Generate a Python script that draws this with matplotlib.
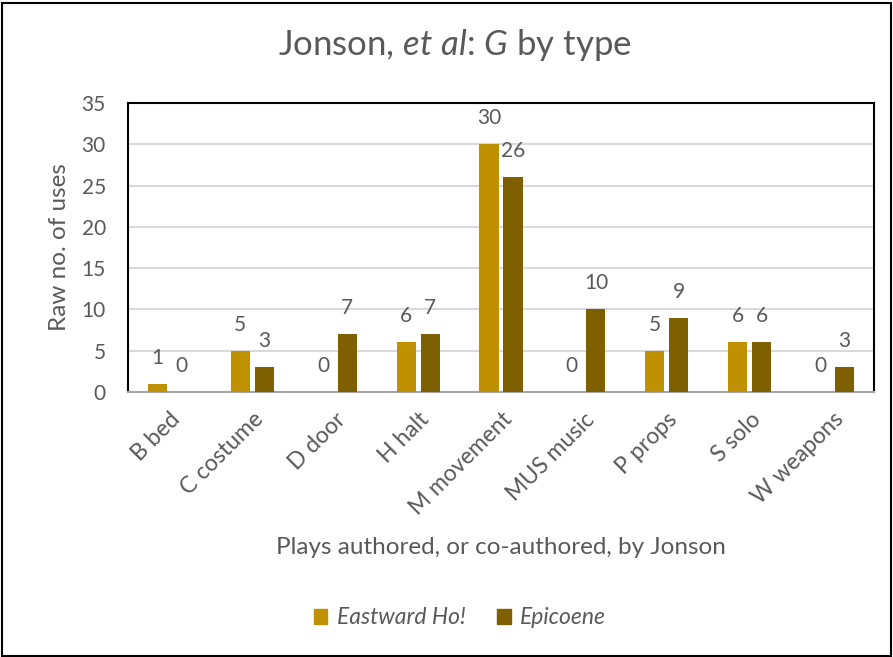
import matplotlib
matplotlib.use("Agg")
import matplotlib.pyplot as plt
from matplotlib.patches import Rectangle, Patch
import numpy as np

categories = ["B bed", "C costume", "D door", "H halt", "M movement",
              "MUS music", "P props", "S solo", "W weapons"]
eastward_ho = [1, 5, 0, 6, 30, 0, 5, 6, 0]
epicoene = [0, 3, 7, 7, 26, 10, 9, 6, 3]
series_names = ["Eastward Ho!", "Epicoene"]
y_ticks = [0, 5, 10, 15, 20, 25, 30, 35]

plt.rcParams["font.family"] = ["Lato", "DejaVu Sans"]
plt.rcParams["mathtext.fontset"] = "custom"
plt.rcParams["mathtext.rm"] = "Lato"
plt.rcParams["mathtext.it"] = "Lato:italic"

TEXT = "#595959"
GOLD = "#BF9000"
BROWN = "#7F6000"

fig = plt.figure(figsize=(8.93, 6.57), dpi=100)
W, H = 893, 657
ax = fig.add_axes([128 / W, 1 - 392 / H, (874 - 128) / W, (392 - 103) / H])

x = np.arange(len(categories))
bw = 0.23
off = 0.145
b1 = ax.bar(x - off, eastward_ho, bw, color=GOLD, zorder=3)
b2 = ax.bar(x + off, epicoene, bw, color=BROWN, zorder=3)

for bars, vals in ((b1, eastward_ho), (b2, epicoene)):
    for rect, v in zip(bars, vals):
        ax.annotate(str(v), (rect.get_x() + rect.get_width() / 2, v),
                    xytext=(0, 11.5), textcoords="offset points",
                    ha="center", va="bottom", fontsize=15, color=TEXT)

ax.set_xlim(-0.5, len(categories) - 0.5)
ax.set_ylim(0, 35)
ax.set_yticks(y_ticks)
ax.yaxis.grid(True, color="#D9D9D9", linewidth=1.5, zorder=0)
ax.set_axisbelow(True)
ax.set_xticks(x)
ax.set_xticklabels(categories, rotation=45, ha="right", rotation_mode="anchor",
                   fontsize=16.5, color=TEXT)
ax.tick_params(axis="y", labelsize=15, labelcolor=TEXT, length=0, pad=16)
ax.tick_params(axis="x", length=0, pad=12)

for s in ("top", "left", "right"):
    ax.spines[s].set_color("black")
    ax.spines[s].set_linewidth(1.5)
ax.spines["bottom"].set_color("#A6A6A6")
ax.spines["bottom"].set_linewidth(1.5)

ax.set_ylabel("Raw no. of uses", fontsize=17.5, color=TEXT, labelpad=8)
fig.text(501 / W, 1 - 548 / H, "Plays authored, or co-authored, by Jonson",
         fontsize=17.5, color=TEXT, ha="center", va="center")

fig.text(455 / W, 1 - 45 / H, r"Jonson, $\it{et\ al}$: $\it{G}$ by type",
         fontsize=25, color=TEXT, ha="center", va="center")

handles = [Patch(color=GOLD), Patch(color=BROWN)]
leg = fig.legend(handles, series_names, loc="center", ncol=2,
                 bbox_to_anchor=(460 / W, 1 - 618 / H), frameon=False,
                 handlelength=0.6, handleheight=0.6, handletextpad=0.4,
                 columnspacing=1.4, prop={"style": "italic", "size": 16.5})
for t in leg.get_texts():
    t.set_color(TEXT)

fig.patches.append(Rectangle((1.5 / W, 1.5 / H), 1 - 4 / W, 1 - 4 / H,
                             transform=fig.transFigure, fill=False,
                             edgecolor="black", linewidth=1.5))

fig.savefig("out.png", dpi=100)
